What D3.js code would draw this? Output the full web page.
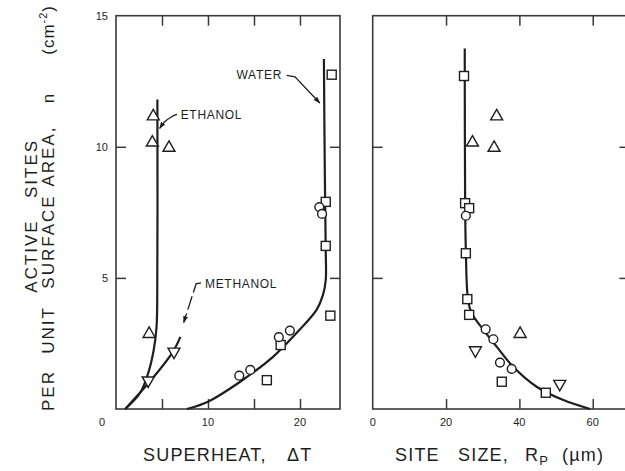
<!DOCTYPE html>
<html>
<head>
<meta charset="utf-8">
<script src="https://cdn.jsdelivr.net/npm/d3@7"></script>
<style>
  html, body { margin: 0; padding: 0; background: #fff; }
  svg { display: block; font-family: "Liberation Sans", Arial, Helvetica, sans-serif; }
</style>
</head>
<body>
<svg id="chart" width="625" height="471"></svg>
<script>
// ---------- data ----------
// Left panel: superheat ΔT vs n (sites per cm^2)
const leftSquares   = [[23.45,12.75],[22.8,7.9],[22.8,6.22],[23.3,3.56],[17.9,2.44],[16.4,1.1]];
const leftCircles   = [[22.1,7.7],[22.4,7.44],[18.9,2.99],[17.7,2.74],[14.6,1.49],[13.4,1.27]];
const leftUpTri     = [[4.05,11.2],[3.95,10.2],[5.76,10.0],[3.6,2.9]];
const leftDownTri   = [[6.3,2.15],[3.5,1.05]];
const waterCurveL   = [[7.7,0],[10.0,0.28],[13.5,1.04],[17.1,2.0],[19.6,2.89],[21.8,3.78],[22.5,4.35],[22.8,4.92],[22.8,6.0],[22.7,9.0],[22.6,13.35]];
const ethanolCurveL = [[1.0,0],[2.6,0.6],[3.5,1.37],[4.1,2.25],[4.4,3.1],[4.48,4.0],[4.5,11.8]];
const methanolCurveL= [[1.0,0],[4.0,1.18],[6.2,2.19],[7.0,2.75]];

// Right panel: site size Rp (µm) vs n
const rightSquares  = [[24.9,12.7],[25.2,7.85],[26.3,7.66],[25.4,5.94],[25.8,4.19],[26.3,3.59],[35.2,1.04],[47.2,0.62]];
const rightCircles  = [[25.4,7.37],[30.8,3.04],[32.9,2.66],[34.7,1.77],[37.9,1.53]];
const rightUpTri    = [[33.8,11.2],[27.2,10.2],[33.1,10.0],[40.2,2.9]];
const rightDownTri  = [[28.0,2.2],[51.0,0.92]];
const waterCurveR   = [[25.1,13.75],[25.2,8.0],[25.4,6.07],[26.0,4.16],[27.0,3.65],[30.2,3.02],[33.8,2.38],[38.3,1.61],[44.7,0.85],[52.0,0.34],[59.3,0]];

// ticks / labels
const yTicks = [5,10];
const yLabels = [5,10,15];
const xTicksL = [5,10,15,20];
const xLabelsL = [10,20];
const xTicksR = [20,40,60];
const xLabelsR = [0,20,40,60];

// annotation leaders (data coords, left panel)
const waterLeader   = [[18.55,12.72],[19.46,12.67],[22.15,11.67]];
const ethanolLeader = [[6.63,11.24],[6.05,11.16],[5.2,10.95],[4.75,10.7]];
const methanolLeader= [[9.24,4.81],[8.7,4.77],[7.36,3.3]];

// ---------- layout ----------
const svg = d3.select("#chart");
const ink = "#1e1e1e";
const axisInk = "#3a3a3a";

const yS  = d3.scaleLinear([0,15],[409,15.7]);
const xL  = d3.scaleLinear([0,24.35],[116,340]);
const xR  = d3.scaleLinear([0,70],[372.7,629.4]);

const defs = svg.append("defs");
defs.append("marker").attr("id","arrow").attr("viewBox","0 0 10 10")
  .attr("refX",9).attr("refY",5).attr("markerWidth",7).attr("markerHeight",7)
  .attr("orient","auto-start-reverse").attr("markerUnits","userSpaceOnUse")
  .append("path").attr("d","M0,1.5 L10,5 L0,8.5 Z").attr("fill",ink);

function panel(x, xTicks, xLabels, showY) {
  const g = svg.append("g");
  // frame
  g.append("rect")
    .attr("x", x.range()[0]).attr("y", yS(15))
    .attr("width", x.range()[1]-x.range()[0]).attr("height", yS(0)-yS(15))
    .attr("fill","none").attr("stroke",axisInk).attr("stroke-width",1.6);
  // bottom ticks (inward)
  const bt = g.append("g").attr("transform",`translate(0,${yS(0)})`)
    .call(d3.axisBottom(x).tickValues(xTicks).tickSize(-10).tickFormat(""));
  const tt = g.append("g").attr("transform",`translate(0,${yS(15)})`)
    .call(d3.axisTop(x).tickValues(xTicks).tickSize(-10).tickFormat(""));
  const lt = g.append("g").attr("transform",`translate(${x.range()[0]},0)`)
    .call(d3.axisLeft(yS).tickValues(yTicks).tickSize(-10).tickFormat(""));
  const rt = g.append("g").attr("transform",`translate(${x.range()[1]},0)`)
    .call(d3.axisRight(yS).tickValues(yTicks).tickSize(-10).tickFormat(""));
  [bt,tt,lt,rt].forEach(a => {
    a.select(".domain").remove();
    a.selectAll("line").attr("stroke",axisInk).attr("stroke-width",1.5);
  });
  // x tick labels
  g.selectAll("text.xl").data(xLabels).join("text")
    .attr("x", d => x(d)).attr("y", 426)
    .attr("text-anchor","middle").attr("font-size",11).attr("fill",ink)
    .text(d => d);
  if (showY) {
    g.selectAll("text.yl").data(yLabels).join("text")
      .attr("x", 108).attr("y", d => yS(d)+4)
      .attr("text-anchor","end").attr("font-size",11).attr("fill",ink)
      .text(d => d);
  }
  return g;
}

const gL = panel(xL, xTicksL, xLabelsL, true);
gL.append("text").attr("x",102).attr("y",426).attr("text-anchor","middle")
  .attr("font-size",11).attr("fill",ink).text("0");
const gR = panel(xR, xTicksR, xLabelsR, false);

function curve(g, x, pts) {
  g.append("path").datum(pts)
    .attr("d", d3.line().x(d=>x(d[0])).y(d=>yS(d[1])).curve(d3.curveCatmullRom.alpha(0.5)))
    .attr("fill","none").attr("stroke",ink).attr("stroke-width",2.2);
}
curve(gL, xL, waterCurveL);
curve(gL, xL, ethanolCurveL);
curve(gL, xL, methanolCurveL);
curve(gR, xR, waterCurveR);

const triUp = "M0,-6 L6,4.5 L-6,4.5 Z";
const triDown = "M0,6 L6,-4.5 L-6,-4.5 Z";
function markers(g, x, sq, ci, up, dn) {
  g.selectAll(null).data(sq).join("rect")
    .attr("x", d=>x(d[0])-4.5).attr("y", d=>yS(d[1])-4.5)
    .attr("width",9).attr("height",9)
    .attr("fill","#fff").attr("stroke",ink).attr("stroke-width",1.4);
  g.selectAll(null).data(ci).join("circle")
    .attr("cx", d=>x(d[0])).attr("cy", d=>yS(d[1])).attr("r",4.4)
    .attr("fill","#fff").attr("stroke",ink).attr("stroke-width",1.4);
  g.selectAll(null).data(up).join("path")
    .attr("d",triUp).attr("transform", d=>`translate(${x(d[0])},${yS(d[1])})`)
    .attr("fill","#fff").attr("stroke",ink).attr("stroke-width",1.4);
  g.selectAll(null).data(dn).join("path")
    .attr("d",triDown).attr("transform", d=>`translate(${x(d[0])},${yS(d[1])})`)
    .attr("fill","#fff").attr("stroke",ink).attr("stroke-width",1.4);
}
markers(gL, xL, leftSquares, leftCircles, leftUpTri, leftDownTri);
markers(gR, xR, rightSquares, rightCircles, rightUpTri, rightDownTri);

// leaders
function leader(pts, dash, curved) {
  gL.append("path").datum(pts)
    .attr("d", d3.line().x(d=>xL(d[0])).y(d=>yS(d[1])).curve(curved ? d3.curveBasis : d3.curveLinear))
    .attr("fill","none").attr("stroke",ink).attr("stroke-width",1.3)
    .attr("stroke-dasharray", dash || null)
    .attr("marker-end","url(#arrow)");
}
leader(waterLeader, null, false);
leader(ethanolLeader, null, true);
leader(methanolLeader, "14,4", false);

const lblStyle = s => s.attr("font-size",12).attr("letter-spacing",0.7).attr("fill",ink);
gL.append("text").attr("x",xL(18.05)).attr("y",yS(12.75)+4.5).attr("text-anchor","end").call(lblStyle).text("WATER");
gL.append("text").attr("x",xL(7.03)).attr("y",yS(11.22)+4.5).call(lblStyle).text("ETHANOL");
gL.append("text").attr("x",xL(9.67)).attr("y",yS(4.8)+4.5).call(lblStyle).text("METHANOL");

// axis titles
const tStyle = s => s.attr("font-size",18).attr("letter-spacing",1.2).attr("fill",ink);
svg.append("text").attr("x",143).attr("y",461).call(tStyle).text("SUPERHEAT,");
svg.append("text").attr("x",287).attr("y",461).call(tStyle).text("ΔT");
svg.append("text").attr("x",395).attr("y",461).call(tStyle).text("SITE");
svg.append("text").attr("x",458).attr("y",461).call(tStyle).text("SIZE,");
const rp = svg.append("text").attr("x",525).attr("y",461).call(tStyle);
rp.append("tspan").text("R");
rp.append("tspan").attr("font-size",13).attr("dy",4).text("P");
svg.append("text").attr("x",562).attr("y",461).call(tStyle).text("(µm)");

// y title (rotated)
const yt = svg.append("g");
function yWord(txt, baseX, cy, anchor) {
  return yt.append("text").attr("transform",`translate(${baseX},${cy}) rotate(-90)`)
    .attr("text-anchor", anchor || "middle")
    .attr("font-size",17).attr("letter-spacing",2).attr("fill",ink).text(txt);
}
yWord("ACTIVE", 37, 256);
yWord("SITES", 37, 168.5);
yWord("PER", 54, 370, "end");
yWord("UNIT", 54, 330);
yWord("SURFACE", 54, 241.5);
yWord("AREA,", 54, 156);
yWord("n", 54, 97.5);
const cm = yt.append("text").attr("transform",`translate(54,5) rotate(-90)`)
  .attr("text-anchor","end").attr("font-size",17).attr("letter-spacing",1).attr("fill",ink);
cm.append("tspan").text("(cm");
cm.append("tspan").attr("font-size",11).attr("dy",-7).text("-2");
cm.append("tspan").attr("dy",7).text(")");
</script>
</body>
</html>
